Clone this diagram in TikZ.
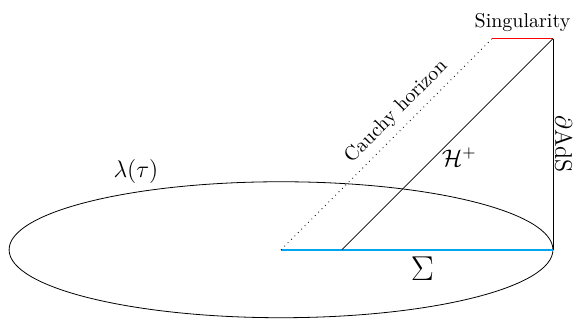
\documentclass[tikz,border=0pt]{standalone}
\usepackage{amsmath}
\usetikzlibrary{positioning}
\definecolor{sigmablue}{RGB}{0,165,240}

\begin{document}
\begin{tikzpicture}
        \useasboundingbox (-4.94,-1.23) rectangle (5.15,4.39);
        \coordinate (O) at (0,0);
        \coordinate (R) at (4.78,0);
        \coordinate (T) at (4.78,3.71);
        \coordinate (S) at (3.71,3.71);
        \coordinate (H) at (1.07,0);
        \draw (O) ellipse (4.78 and 1.195);
        \node[font=\large] (lambda) at (-2.55,1.37) {$\lambda(\tau)$};
        \draw[sigmablue, thick] (O) -- node[pos=0.52, below, black, font=\LARGE] (sigma) {$\Sigma$} (R);
        \draw (T) -- node[midway, above, sloped, inner sep=1pt, font=\large] (bdy) {$\partial\mathrm{AdS}$} (R);
        \draw[red] (S) -- node[midway, above, black] (sing) {Singularity} (T);
        \draw[dotted] (O) -- node[pos=0.6, above, sloped] (cauchy) {Cauchy horizon} (S);
        \draw (H) -- node[pos=0.44, right, font=\large] (horizon) {$\mathcal{H}^+$} (T);
     \end{tikzpicture}
\end{document}
